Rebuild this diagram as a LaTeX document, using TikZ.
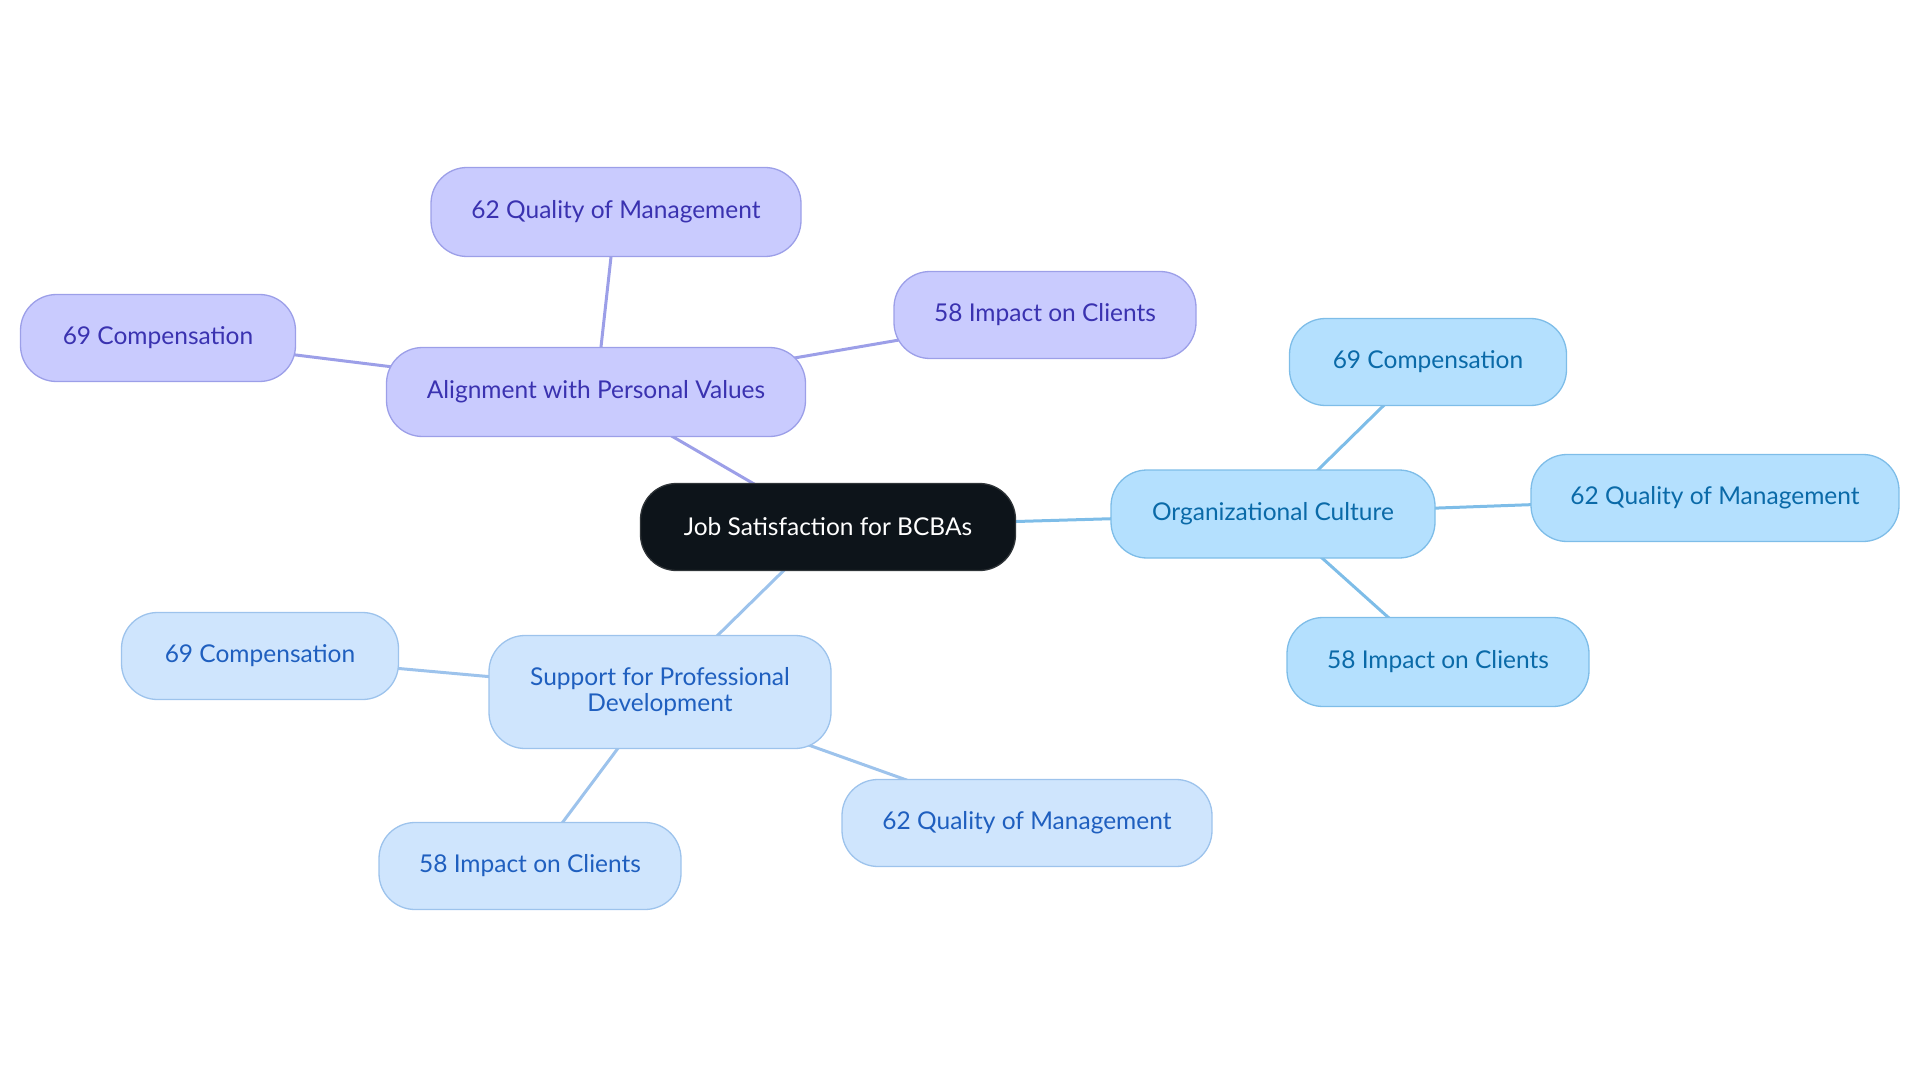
\documentclass[tikz,border=0pt]{standalone}
\usepackage{fontspec}
\setmainfont{Lato}
\usetikzlibrary{backgrounds}
\definecolor{pfill}{HTML}{C9CBFE}
\definecolor{pdraw}{HTML}{9C9FE8}
\definecolor{ptext}{HTML}{3A32B0}
\definecolor{bfill}{HTML}{B4E0FE}
\definecolor{bdraw}{HTML}{7EBDE8}
\definecolor{btext}{HTML}{0A6AA8}
\definecolor{lfill}{HTML}{CFE5FD}
\definecolor{ldraw}{HTML}{9DC3EC}
\definecolor{ltext}{HTML}{1F5FBF}
\definecolor{rootfill}{HTML}{0D141A}
\tikzset{
  box/.style={rounded corners=36pt, line width=1.3pt, align=center, inner sep=0pt, font=\fontsize{24.5}{26}\selectfont, minimum height=87pt},
  pbox/.style={box, fill=pfill, draw=pdraw, text=ptext},
  bbox/.style={box, fill=bfill, draw=bdraw, text=btext},
  lbox/.style={box, fill=lfill, draw=ldraw, text=ltext},
  rootbox/.style={box, fill=rootfill, draw=rootfill!70!gray, text=white},
  pedge/.style={draw=pdraw, line width=3pt},
  bedge/.style={draw=bdraw, line width=3pt},
  ledge/.style={draw=ldraw, line width=3pt},
}
\begin{document}
\begin{tikzpicture}[x=1pt, y=-1pt]
\useasboundingbox (0,0) rectangle (1920,1083);
\node[rootbox, minimum width=375pt] (root) at (828,527) {Job Satisfaction for BCBAs};
\node[pbox, minimum width=419pt, minimum height=89pt] (align) at (596,392) {Alignment with Personal Values};
\node[pbox, minimum width=370pt, minimum height=89pt] (pqm) at (616,212) {62 Quality of Management};
\node[pbox, minimum width=275pt] (pcomp) at (158,338) {69 Compensation};
\node[pbox, minimum width=302pt] (pimp) at (1045,315) {58 Impact on Clients};
\node[bbox, minimum width=324pt, minimum height=88pt] (org) at (1273,514) {Organizational Culture};
\node[bbox, minimum width=277pt] (bcomp) at (1428,362) {69 Compensation};
\node[bbox, minimum width=368pt] (bqm) at (1715,498) {62 Quality of Management};
\node[bbox, minimum width=302pt, minimum height=89pt] (bimp) at (1438,662) {58 Impact on Clients};
\node[lbox, minimum width=342pt, minimum height=113pt] (sup) at (660,692) {Support for Professional\\Development};
\node[lbox, minimum width=277pt] (lcomp) at (260,656) {69 Compensation};
\node[lbox, minimum width=302pt] (limp) at (530,866) {58 Impact on Clients};
\node[lbox, minimum width=370pt] (lqm) at (1027,823) {62 Quality of Management};
\begin{scope}[on background layer]
\draw[pedge] (root.center) -- (align.center);
\draw[pedge] (align.center) -- (pqm.center);
\draw[pedge] (align.center) -- (pcomp.center);
\draw[pedge] (align.center) -- (pimp.center);
\draw[bedge] (root.center) -- (org.center);
\draw[bedge] (org.center) -- (bcomp.center);
\draw[bedge] (org.center) -- (bqm.center);
\draw[bedge] (org.center) -- (bimp.center);
\draw[ledge] (root.center) -- (sup.center);
\draw[ledge] (sup.center) -- (lcomp.center);
\draw[ledge] (sup.center) -- (limp.center);
\draw[ledge] (sup.center) -- (lqm.center);
\end{scope}
\end{tikzpicture}
\end{document}
